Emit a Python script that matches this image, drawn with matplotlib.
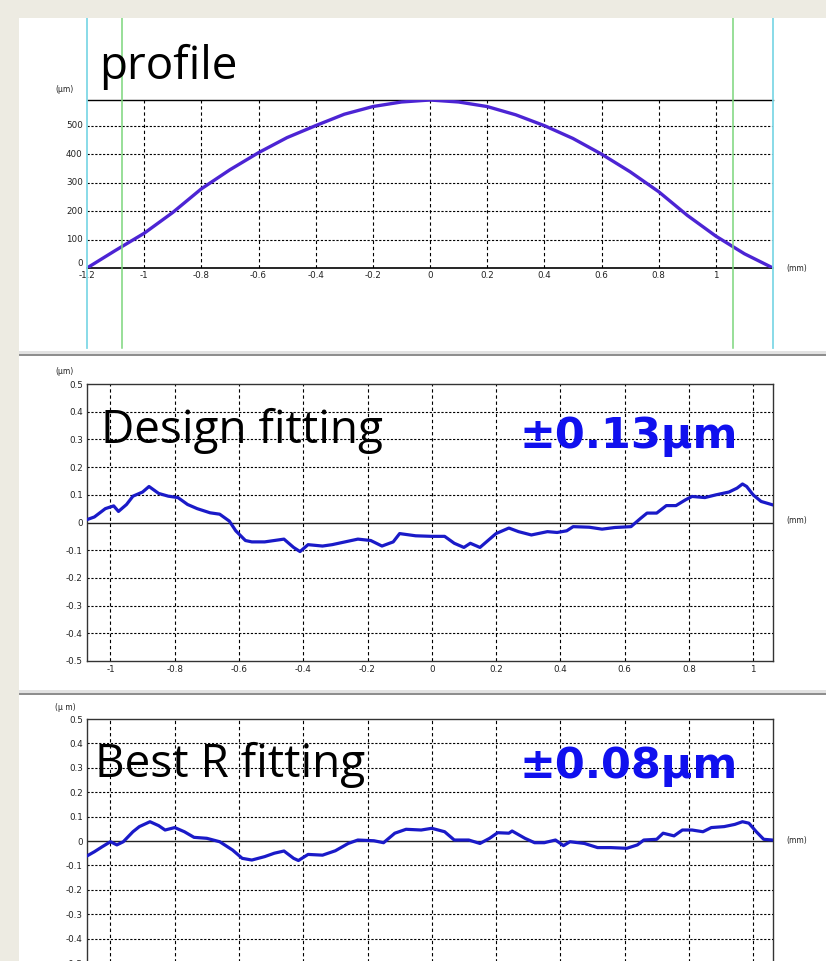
import matplotlib
matplotlib.use('Agg')
import matplotlib.pyplot as plt
from matplotlib.patches import Rectangle

# ---------------- data ----------------
profile_x = [-1.2, -1.1, -1.0, -0.9, -0.8, -0.7, -0.6, -0.5, -0.4, -0.3, -0.2, -0.1, 0.0,
             0.1, 0.2, 0.3, 0.4, 0.5, 0.6, 0.7, 0.8, 0.9, 1.0, 1.1, 1.2]
profile_y = [0, 62, 122, 195, 278, 345, 405, 458, 500, 540, 567, 583, 590,
             583, 567, 538, 500, 455, 400, 338, 268, 185, 112, 50, 0]

design_x = [-1.074, -1.05, -1.016, -0.99, -0.975, -0.95, -0.93, -0.90, -0.88, -0.85, -0.82,
            -0.79, -0.76, -0.73, -0.69, -0.66, -0.63, -0.61, -0.58, -0.56, -0.52, -0.49,
            -0.46, -0.43, -0.41, -0.385, -0.34, -0.31, -0.27, -0.23, -0.19, -0.155, -0.12,
            -0.10, -0.05, 0.0, 0.04, 0.07, 0.10, 0.12, 0.15, 0.17, 0.20, 0.24, 0.27, 0.31,
            0.36, 0.39, 0.42, 0.44, 0.49, 0.53, 0.57, 0.62, 0.65, 0.67, 0.70, 0.73, 0.76,
            0.79, 0.81, 0.85, 0.885, 0.925, 0.95, 0.967, 0.98, 1.0, 1.025, 1.06]
design_y = [0.01, 0.02, 0.05, 0.06, 0.04, 0.065, 0.095, 0.11, 0.13, 0.105, 0.095,
            0.09, 0.065, 0.05, 0.035, 0.03, 0.005, -0.03, -0.065, -0.07, -0.07, -0.065,
            -0.06, -0.09, -0.105, -0.08, -0.085, -0.08, -0.07, -0.06, -0.065, -0.085, -0.07,
            -0.04, -0.048, -0.05, -0.05, -0.075, -0.09, -0.075, -0.09, -0.07, -0.04, -0.02, -0.033, -0.045,
            -0.033, -0.036, -0.03, -0.015, -0.017, -0.024, -0.018, -0.015, 0.015, 0.034, 0.034, 0.061, 0.061,
            0.082, 0.094, 0.09, 0.10, 0.11, 0.124, 0.139, 0.13, 0.10, 0.076, 0.064]

bestr_x = [-1.074, -1.05, -1.025, -1.0, -0.98, -0.96, -0.93, -0.91, -0.877, -0.85, -0.83,
           -0.80, -0.77, -0.74, -0.70, -0.66, -0.62, -0.59, -0.56, -0.52, -0.49, -0.46,
           -0.43, -0.415, -0.385, -0.34, -0.30, -0.26, -0.23, -0.18, -0.15, -0.115, -0.08,
           -0.033, 0.0, 0.04, 0.07, 0.115, 0.15, 0.18, 0.205, 0.24, 0.25, 0.29, 0.32, 0.35,
           0.385, 0.41, 0.43, 0.475, 0.516, 0.557, 0.607, 0.64, 0.66, 0.70, 0.72, 0.754,
           0.78, 0.81, 0.844, 0.87, 0.91, 0.943, 0.967, 0.987, 1.01, 1.033, 1.06]
bestr_y = [-0.062, -0.044, -0.023, -0.003, -0.016, -0.003, 0.038, 0.059, 0.079, 0.063, 0.045,
           0.055, 0.038, 0.015, 0.011, -0.003, -0.037, -0.071, -0.078, -0.064, -0.05, -0.041,
           -0.071, -0.08, -0.055, -0.058, -0.04, -0.01, 0.004, 0.001, -0.007, 0.032, 0.048,
           0.045, 0.052, 0.038, 0.004, 0.004, -0.01, 0.011, 0.034, 0.032, 0.041, 0.011, -0.007, -0.007,
           0.004, -0.019, -0.003, -0.01, -0.027, -0.027, -0.03, -0.016, 0.004, 0.007, 0.032, 0.021,
           0.045, 0.045, 0.038, 0.055, 0.059, 0.068, 0.079, 0.073, 0.038, 0.007, 0.004]

profile_xticks = [-1.2, -1.0, -0.8, -0.6, -0.4, -0.2, 0.0, 0.2, 0.4, 0.6, 0.8, 1.0]
profile_xlabels = ['-1.2', '-1', '-0.8', '-0.6', '-0.4', '-0.2', '0', '0.2', '0.4', '0.6', '0.8', '1']
profile_yticks = [0, 100, 200, 300, 400, 500]
profile_ylabels = ['0', '100', '200', '300', '400', '500']

err_xticks = [-1.0, -0.8, -0.6, -0.4, -0.2, 0.0, 0.2, 0.4, 0.6, 0.8, 1.0]
err_xlabels = ['-1', '-0.8', '-0.6', '-0.4', '-0.2', '0', '0.2', '0.4', '0.6', '0.8', '1']
err_yticks = [0.5, 0.4, 0.3, 0.2, 0.1, 0.0, -0.1, -0.2, -0.3, -0.4, -0.5]
err_ylabels = ['0.5', '0.4', '0.3', '0.2', '0.1', '0', '-0.1', '-0.2', '-0.3', '-0.4', '-0.5']

titles = ['profile', 'Design fitting', 'Best R fitting']
pv_labels = ['\u00b10.13\u00b5m', '\u00b10.08\u00b5m']

# ---------------- layout ----------------
W, H = 826, 961
fig = plt.figure(figsize=(W / 100, H / 100), dpi=100, facecolor='white')


def fx(px):
    return px / W


def fy(py):
    return 1 - py / H


BEIGE = '#EDEBE2'
fig.patches.append(Rectangle((0, 0), fx(19), 1, transform=fig.transFigure,
                             facecolor=BEIGE, edgecolor='none', zorder=0))
fig.patches.append(Rectangle((0, fy(18)), 1, 18 / H, transform=fig.transFigure,
                             facecolor=BEIGE, edgecolor='none', zorder=0))
for ysep in (351, 690):
    fig.patches.append(Rectangle((fx(19), fy(ysep + 3)), 1, 3 / H, transform=fig.transFigure,
                                 facecolor='#E2E2E2', edgecolor='none', zorder=0))
    fig.patches.append(Rectangle((fx(19), fy(ysep + 5)), 1, 2 / H, transform=fig.transFigure,
                                 facecolor='#8E8E8E', edgecolor='none', zorder=0))

TICKFONT = dict(family='DejaVu Sans', size=6.3, color='#222222')
GRID_V = dict(color='black', lw=0.8, ls=(0, (3, 2.5)))
GRID_H = dict(color='black', lw=0.8, ls=(0, (2, 1.5)))

# ---- panel 1: profile ----
ax1 = fig.add_axes([fx(87), fy(268), 686 / W, 168 / H])
ax1.set_xlim(-1.2, 1.2)
ax1.set_ylim(0, 590)
for s in ('left', 'right'):
    ax1.spines[s].set_visible(False)
ax1.spines['top'].set_linewidth(1.0)
ax1.spines['bottom'].set_linewidth(1.2)
ax1.set_xticks(profile_xticks)
ax1.set_xticklabels(profile_xlabels, **TICKFONT)
ax1.set_yticks(profile_yticks)
ax1.set_yticklabels(profile_ylabels, **TICKFONT)
ax1.tick_params(length=0, pad=2)
ax1.tick_params(axis='y', pad=3)
for lab in ax1.get_yticklabels():
    lab.set_va('bottom' if lab.get_text() == '0' else 'center')
for xv in profile_xticks[1:]:
    ax1.axvline(xv, zorder=1, **GRID_V)
for yv in profile_yticks[1:]:
    ax1.axhline(yv, zorder=1, **GRID_H)
ax1.plot(profile_x, profile_y, color='#4C24D4', lw=2.4, solid_capstyle='round', zorder=3)
# vertical range markers (cyan = full range, green = evaluated range)
for xv in (-1.2, 1.2):
    ax1.axvline(xv, ymin=-0.476, ymax=1.488, clip_on=False, color='#7FD8E6', lw=1.3, zorder=4)
for xv in (-1.078, 1.06):
    ax1.axvline(xv, ymin=-0.476, ymax=1.488, clip_on=False, color='#7CD67C', lw=1.1, zorder=4)


# ---- panels 2 & 3: fitting error ----
def err_panel(rect, xs, ys, show_x=True):
    ax = fig.add_axes(rect)
    ax.set_xlim(-1.073, 1.062)
    ax.set_ylim(-0.5, 0.5)
    for s in ax.spines.values():
        s.set_linewidth(1.0)
        s.set_color('#333333')
    ax.set_xticks(err_xticks)
    if show_x:
        ax.set_xticklabels(err_xlabels, **TICKFONT)
    else:
        ax.set_xticklabels([])
    ax.set_yticks(err_yticks)
    ax.set_yticklabels(err_ylabels, **TICKFONT)
    ax.tick_params(length=0, pad=3)
    for xv in err_xticks:
        ax.axvline(xv, zorder=1, **GRID_V)
    for yv in err_yticks[1:-1]:
        if yv != 0:
            ax.axhline(yv, zorder=1, **GRID_H)
    ax.axhline(0, color='#222222', lw=1.0, zorder=2)
    ax.plot(xs, ys, color='#1A1AC8', lw=2.3, zorder=3)
    return ax


ax2 = err_panel([fx(87), fy(661), 686 / W, 277 / H], design_x, design_y)
ax3 = err_panel([fx(87), fy(963), 686 / W, 244 / H], bestr_x, bestr_y, show_x=False)

# ---- unit labels ----
UNIT = dict(family='DejaVu Sans', size=5.5, color='#222222', ha='left', va='center')
fig.text(fx(55), fy(89), '(\u03bcm)', **UNIT)
fig.text(fx(55), fy(372), '(\u03bcm)', **UNIT)
fig.text(fx(55), fy(707), '(\u03bc m)', **UNIT)
fig.text(fx(786), fy(268), '(mm)', **UNIT)
fig.text(fx(786), fy(521), '(mm)', **UNIT)
fig.text(fx(786), fy(840), '(mm)', **UNIT)

# ---- big annotations ----
BIG = dict(family='Open Sans', size=33, color='black', ha='left', va='baseline')
fig.text(fx(99), fy(79), titles[0], **BIG)
fig.text(fx(101), fy(443), titles[1], **BIG)
fig.text(fx(95), fy(777), titles[2], **BIG)
PV = dict(family='DejaVu Sans', weight='bold', size=31, color='#1010EE', ha='left', va='baseline')
fig.text(fx(519), fy(448), pv_labels[0], **PV)
fig.text(fx(519), fy(778), pv_labels[1], **PV)

fig.savefig('out.png', dpi=100, facecolor=fig.get_facecolor())
